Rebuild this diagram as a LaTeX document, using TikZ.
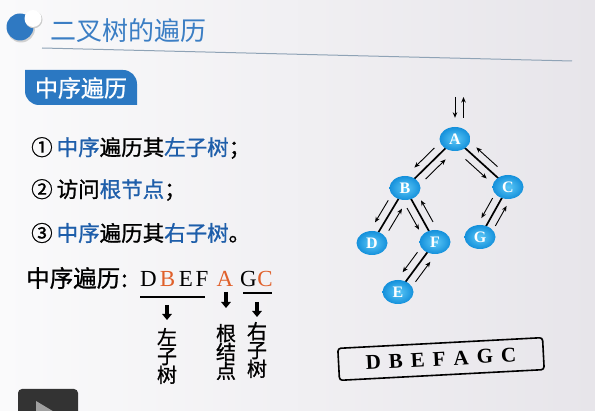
\documentclass[tikz,border=0pt]{standalone}
\usepackage{fontspec}
\setmainfont{Liberation Serif}
\newfontfamily\cjk{Noto Sans CJK SC}
\newfontfamily\cjkbody[FakeBold=1]{Noto Sans CJK SC}
\usetikzlibrary{calc,arrows.meta,shapes.geometric}

\definecolor{bgleft}{HTML}{FAFAFB}
\definecolor{bgright}{HTML}{E7E5EA}
\definecolor{iconblue}{HTML}{2F79C2}
\definecolor{titleblue}{HTML}{3B7EC4}
\definecolor{rulegray}{HTML}{8FA3B6}
\definecolor{tabblue}{HTML}{2B78C2}
\definecolor{textblue}{HTML}{1E5EAA}
\definecolor{hiorange}{HTML}{E0602A}
\definecolor{nodehi}{HTML}{5CC8F7}
\definecolor{nodelo}{HTML}{1490DB}
\definecolor{playgray}{HTML}{333333}
\definecolor{playtri}{HTML}{A0A0A0}

% traversal arrow running beside the edge #1 -> #2, on its right-hand side
\newcommand\sidearrow[2]{%
  \draw[flow] ($(#1)!0.3!(#2)!8pt!-90:(#2)$) -- ($(#1)!0.7!(#2)!8pt!-90:(#2)$);}

\begin{document}
\begin{tikzpicture}[x=1pt,y=-1pt,
  treenode/.style={ellipse, minimum width=31pt, minimum height=24pt, inner sep=0pt,
    inner color=nodehi, outer color=nodelo, text=white,
    font=\bfseries\fontsize{16}{16}\selectfont},
  treeedge/.style={line width=1.7pt},
  flow/.style={line width=0.9pt, -{Stealth[length=5.5pt,width=4.5pt]}},
  bigdown/.style={line width=3.5pt, -{Triangle[length=6pt,width=9.5pt]}},
  listline/.style={anchor=west, inner sep=0pt, font=\cjkbody\fontsize{21.5}{21.5}\selectfont},
  seqletter/.style={anchor=base, inner sep=0pt, font=\fontsize{23}{23}\selectfont},
  vtext/.style={align=center, inner sep=0pt, font=\cjkbody\fontsize{20}{18.8}\selectfont},
  uline/.style={line width=2pt}]

% page background
\shade[left color=bgleft, right color=bgright] (0,0) rectangle (595,411);
\useasboundingbox (0,0) rectangle (595,411);

% heading icon, title and rule
\fill[black!18] (21,28.5) circle (14);
\fill[iconblue] (20,27) circle (13.5);
\fill[black!20] (33.8,19.6) circle (8.7);
\fill[white] (33,18.5) circle (8.5);
\node[anchor=west, inner sep=0pt, text=titleblue, font=\cjk\fontsize{26}{26}\selectfont]
  (title) at (50,31) {二叉树的遍历};
\coordinate (ruleL) at (42,48);
\coordinate (ruleR) at (572,61);
\draw[rulegray, line width=1pt] (ruleL) -- (ruleR);

% section tab
\fill[tabblue] (25,70) -- (123,70) arc[start angle=270, end angle=360, radius=14]
  -- (137,105) -- (39,105) arc[start angle=90, end angle=180, radius=14] -- cycle;
\node[inner sep=0pt, text=white, font=\cjkbody\fontsize{23}{23}\selectfont] (tab) at (81,88) {中序遍历};

% the three steps
\node[listline] (s1) at (31,148)
  {①\hspace{4pt}\textcolor{textblue}{中序}遍历其\textcolor{textblue}{左子树}；};
\node[listline] (s2) at (31,190)
  {②\hspace{4pt}访问\textcolor{textblue}{根节点}；};
\node[listline] (s3) at (31,233)
  {③\hspace{4pt}\textcolor{textblue}{中序}遍历其\textcolor{textblue}{右子树}。};

% in-order sequence with its parts
\node[anchor=west, inner sep=0pt, font=\cjkbody\fontsize{23.5}{23.5}\selectfont]
  (seqlabel) at (26,278) {中序遍历\hspace{1pt}:};
\node[seqletter] (lD) at (148.5,287) {D};
\node[seqletter, text=hiorange] (lB) at (167.5,287) {B};
\node[seqletter] (lE) at (186,287) {E};
\node[seqletter] (lF) at (202,287) {F};
\node[seqletter, text=hiorange] (lA) at (225,287) {A};
\node[seqletter] (lG) at (248.5,287) {G};
\node[seqletter, text=hiorange] (lC) at (265,287) {C};

\coordinate (ulLa) at (140,297);
\coordinate (ulLb) at (205,297);
\coordinate (ulRa) at (243,293);
\coordinate (ulRb) at (272,293);
\draw[uline] (ulLa) -- (ulLb);
\draw[uline] (ulRa) -- (ulRb);

\node[vtext] (tleft) at (167,356) {左\\子\\树};
\node[vtext] (troot) at (226,352) {根\\结\\点};
\node[vtext] (tright) at (257,350) {右\\子\\树};

\coordinate (arL) at (167,305);
\coordinate (arM) at (226,292);
\coordinate (arR) at (257,302);
\draw[bigdown] (arL) -- ++(0,15);
\draw[bigdown] (arM) -- ++(0,16);
\draw[bigdown] (arR) -- ++(0,15);

% binary tree
\coordinate (Ain) at (455,97);
\coordinate (Aout) at (463.5,97);

\draw[treeedge] (455,139) coordinate (cA) -- (405,188) coordinate (cB);
\draw[treeedge] (cA) -- (508,187) coordinate (cC);
\draw[treeedge] (cB) -- (372,243) coordinate (cD);
\draw[treeedge] (cB) -- (435,242) coordinate (cF);
\draw[treeedge] (cF) -- (398,292) coordinate (cE);
\draw[treeedge] (cC) -- (480,237) coordinate (cG);

\node[treenode] (A) at (cA) {A};
\node[treenode] (B) at (cB) {B};
\node[treenode] (C) at (cC) {C};
\node[treenode] (D) at (cD) {D};
\node[treenode] (F) at (cF) {F};
\node[treenode] (E) at (cE) {E};
\node[treenode] (G) at (cG) {G};

\draw[flow, shorten >=9pt] (Ain) -- (Ain |- A.north);
\draw[flow, shorten <=9pt] (Aout |- A.north) -- (Aout);

\sidearrow{A}{B}\sidearrow{B}{A}
\sidearrow{A}{C}\sidearrow{C}{A}
\sidearrow{B}{D}\sidearrow{D}{B}
\sidearrow{B}{F}\sidearrow{F}{B}
\sidearrow{F}{E}\sidearrow{E}{F}
\sidearrow{C}{G}\sidearrow{G}{C}

% result box
\node[draw, line width=1.6pt, rounded corners=3pt, rotate=3,
  minimum width=205pt, minimum height=32pt, inner sep=0pt,
  font=\bfseries\fontsize{21}{21}\selectfont] (result) at (441,359)
  {D\hspace{8pt}B\hspace{8pt}E\hspace{8pt}F\hspace{8pt}A\hspace{8pt}G\hspace{8pt}C};

% player control
\begin{scope}
  \clip (0,0) rectangle (595,411);
  \fill[playgray, rounded corners=4pt] (18,389) rectangle (78,425);
  \fill[playtri] (36,401) -- (56,413) -- (36,425) -- cycle;
\end{scope}
\end{tikzpicture}
\end{document}
